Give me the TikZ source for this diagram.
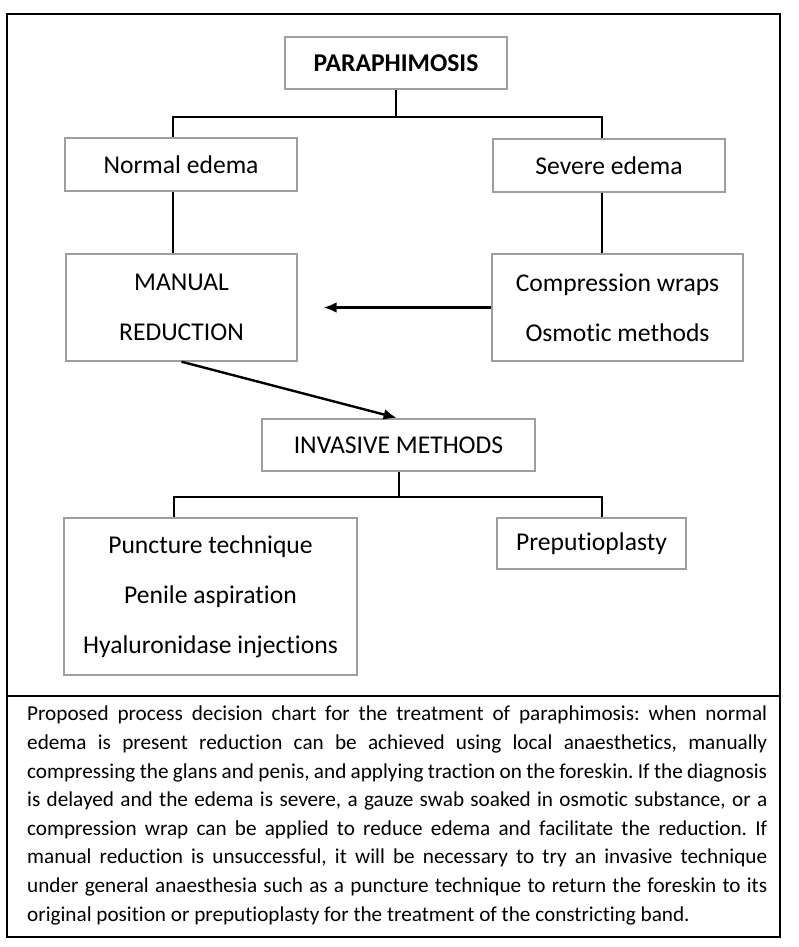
\documentclass[tikz,border=0pt]{standalone}
\usepackage{fontspec}
\setmainfont{Carlito}[Ligatures=NoCommon]
\usetikzlibrary{arrows.meta}
\tikzset{
  chartbox/.style={draw=black!38,line width=1.4pt,fill=white,align=center,
    inner sep=0pt,font=\fontsize{25.6}{50}\selectfont},
  chartlink/.style={line width=2pt,black},
  chartarrow/.style={line width=2.4pt,black,-{Latex[length=13pt,width=11pt]}},
  chartframe/.style={line width=2.4pt,black}
}
\begin{document}
\begin{tikzpicture}[x=1pt,y=-1pt]
  \useasboundingbox[fill=white] (0,0) rectangle (798,947);
  \draw[chartframe] (7,14) rectangle (780,937);
  \draw[chartframe] (7,696) -- (780,696);
  % boxes
  \node[chartbox,minimum width=222pt,minimum height=52pt] (paraph) at (396,63) {\textbf{PARAPHIMOSIS}};
  \node[chartbox,minimum width=232pt,minimum height=53pt] (normal) at (181,164.5) {Normal edema};
  \node[chartbox,minimum width=232pt,minimum height=53pt] (severe) at (609,165.5) {Severe edema};
  \node[chartbox,minimum width=231pt,minimum height=107pt] (manual) at (181.5,307.5) {MANUAL\\REDUCTION};
  \node[chartbox,minimum width=251pt,minimum height=107pt] (comp) at (617.5,307.5) {Compression wraps\\Osmotic methods};
  \node[chartbox,minimum width=273pt,minimum height=52pt] (invasive) at (398.5,445) {INVASIVE METHODS};
  \node[chartbox,minimum width=293pt,minimum height=157pt] (puncture) at (210.5,596.5) {Puncture technique\\Penile aspiration\\Hyaluronidase injections};
  \node[chartbox,minimum width=189pt,minimum height=51pt] (prep) at (591.5,543.5) {Preputioplasty};
  % connectors
  \draw[chartlink] (paraph.south) |- ([xshift=-8pt]normal.north |- 0,117) -- ([xshift=-8pt]normal.north);
  \draw[chartlink] (paraph.south) |- ([xshift=-7pt]severe.north |- 0,117) -- ([xshift=-7pt]severe.north);
  \draw[chartlink] ([xshift=-8pt]normal.south) -- ([xshift=-8pt]normal.south |- manual.north);
  \draw[chartlink] ([xshift=-7pt]severe.south) -- ([xshift=-7pt]severe.south |- comp.north);
  \draw[chartlink] (invasive.south) |- ([xshift=-37pt]puncture.north |- 0,497) -- ([xshift=-37pt]puncture.north);
  \draw[chartlink] (invasive.south) |- ([xshift=10pt]prep.north |- 0,497) -- ([xshift=10pt]prep.north);
  \draw[chartarrow] (comp.west) -- ([xshift=26pt]manual.east);
  \draw[chartarrow,shorten >=2pt] (manual.south) -- (invasive.north);
  % caption
  \node[anchor=north west,text width=740pt,inner sep=0pt,align=justify,
    font=\fontsize{21.2}{28.6}\selectfont\frenchspacing] (caption) at (27,706)
  {Proposed process decision chart for the treatment of paraphimosis: when normal\linebreak
   edema is present reduction can be achieved using local anaesthetics, manually\linebreak
   compressing the glans and penis, and applying traction on the foreskin. If the diagnosis\linebreak
   is delayed and the edema is severe, a gauze swab soaked in osmotic substance, or a\linebreak
   compression wrap can be applied to reduce edema and facilitate the reduction. If\linebreak
   manual reduction is unsuccessful, it will be necessary to try an invasive technique\linebreak
   under general anaesthesia such as a puncture technique to return the foreskin to its\linebreak
   original position or preputioplasty for the treatment of the constricting band.};
\end{tikzpicture}
\end{document}
